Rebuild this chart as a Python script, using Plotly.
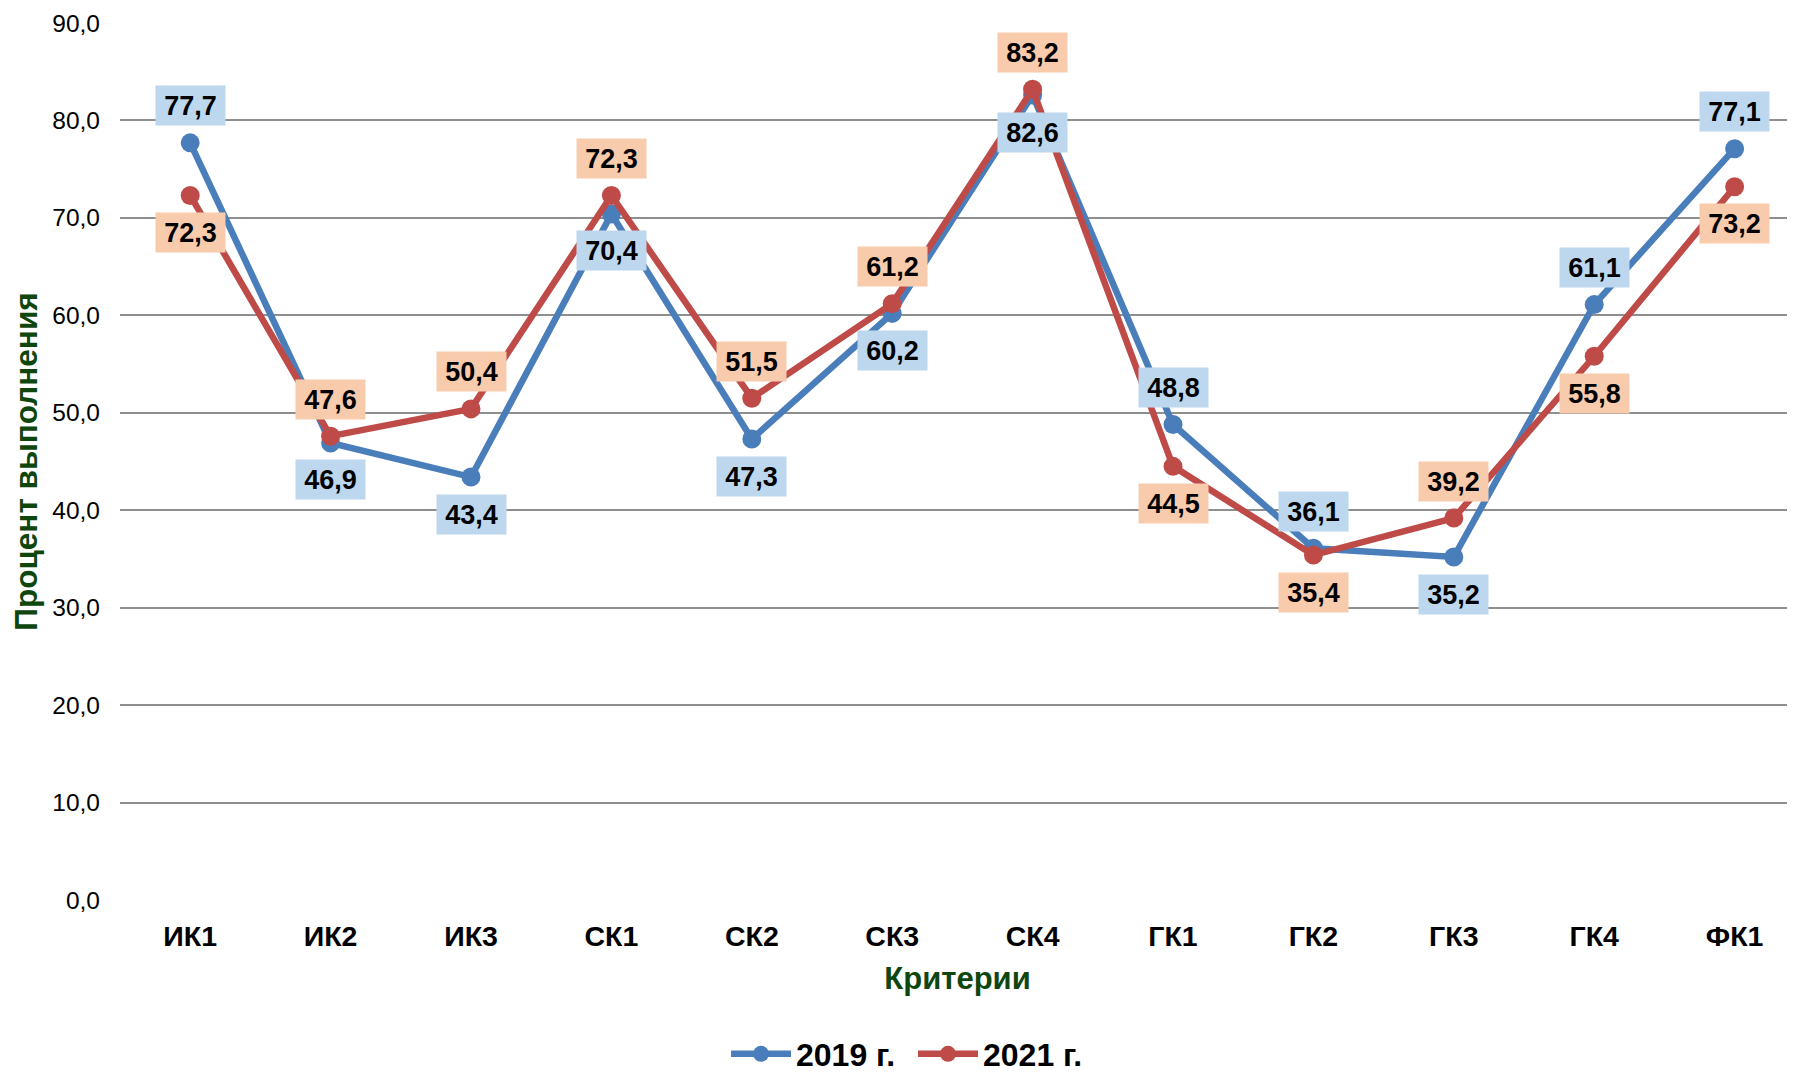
import plotly.graph_objects as go

categories = ["ИК1", "ИК2", "ИК3", "СК1", "СК2", "СК3", "СК4", "ГК1", "ГК2", "ГК3", "ГК4", "ФК1"]
values_2019 = [77.7, 46.9, 43.4, 70.4, 47.3, 60.2, 82.6, 48.8, 36.1, 35.2, 61.1, 77.1]
values_2021 = [72.3, 47.6, 50.4, 72.3, 51.5, 61.2, 83.2, 44.5, 35.4, 39.2, 55.8, 73.2]
# label placement: 1 = above the point, -1 = below
pos_2019 = [1, -1, -1, -1, -1, -1, -1, 1, 1, -1, 1, 1]
pos_2021 = [-1, 1, 1, 1, 1, 1, 1, -1, -1, 1, -1, -1]

BLUE = "#4A7EBB"
RED = "#BE4B48"
BLUE_BG = "#BDD7EE"
RED_BG = "#F8CBAD"
GREEN = "#0E460E"
FONT = "Liberation Sans, Arial, sans-serif"

fig = go.Figure()
for name, vals, col in [("2019 г.", values_2019, BLUE), ("2021 г.", values_2021, RED)]:
    fig.add_trace(go.Scatter(
        x=categories, y=vals, name=name, mode="lines+markers",
        line=dict(color=col, width=6.5),
        marker=dict(color=col, size=19),
    ))

annotations = []
for vals, pos, bg in [(values_2019, pos_2019, BLUE_BG), (values_2021, pos_2021, RED_BG)]:
    for c, v, p in zip(categories, vals, pos):
        annotations.append(dict(
            x=c, y=v, xref="x", yref="y",
            text="<b>" + f"{v:.1f}".replace(".", ",") + "</b>",
            showarrow=False, bgcolor=bg, borderpad=1,
            width=67, height=37,
            font=dict(family=FONT, size=27, color="black"),
            yshift=37 * p,
        ))

fig.update_layout(
    width=1787, height=1065,
    margin=dict(l=112, r=0, t=15, b=173, autoexpand=False),
    paper_bgcolor="white", plot_bgcolor="white",
    separators=", ",
    font=dict(family=FONT, color="black"),
    showlegend=True,
    legend=dict(
        orientation="h", x=0.3618, xanchor="left",
        y=-0.1756, yanchor="middle",
        font=dict(family=FONT, size=32, color="black", weight="bold"),
        itemwidth=60, entrywidth=112, entrywidthmode="pixels",
    ),
    annotations=annotations,
    xaxis=dict(
        range=[-0.5, 11.43], automargin=False,
        showgrid=False, zeroline=False, showline=False,
        ticks="", ticklabelstandoff=16,
        tickfont=dict(family=FONT, size=28.5, color="black", weight="bold"),
        title=dict(text="<b>Критерии</b>", font=dict(family=FONT, size=31, color=GREEN), standoff=16),
    ),
    yaxis=dict(
        range=[0, 90], dtick=10, tickformat=".1f", automargin=False,
        showgrid=True, gridcolor="#8F8F8F", gridwidth=2,
        zeroline=False, showline=False,
        ticks="", ticklabelstandoff=19,
        tickfont=dict(family=FONT, size=24.5, color="black"),
        title=dict(text="<b>Процент выполнения</b>", font=dict(family=FONT, size=31.5, color=GREEN), standoff=19),
    ),
)

fig.write_html("out.html")
